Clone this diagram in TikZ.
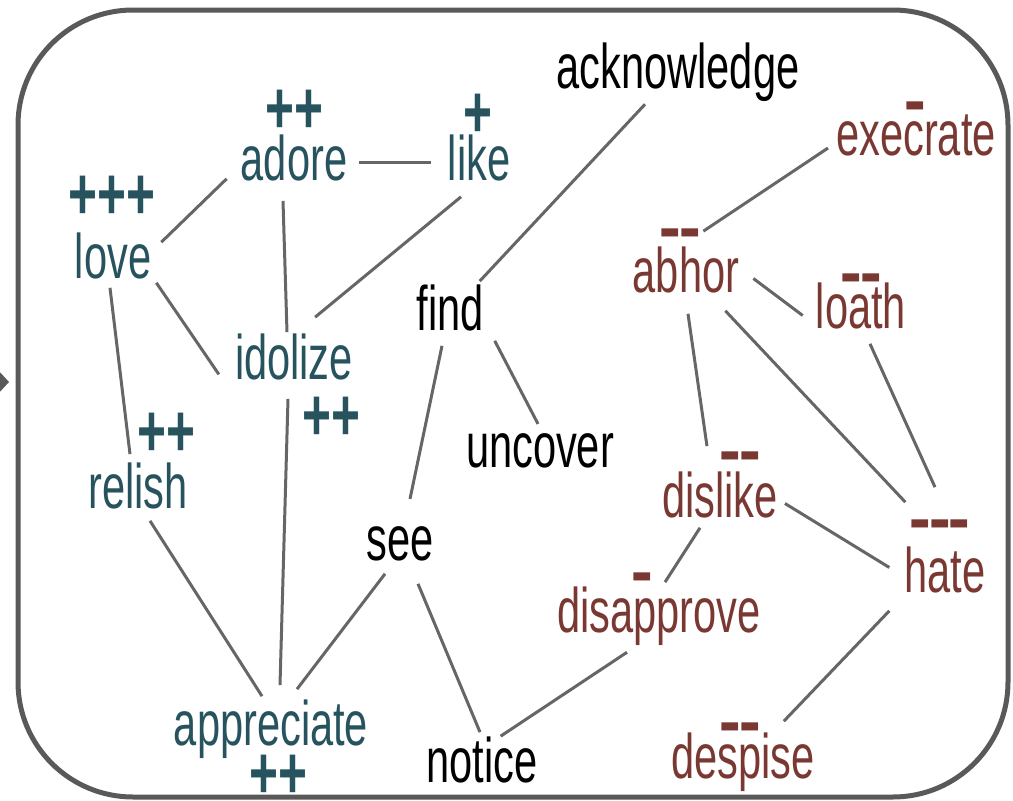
\documentclass[tikz,border=0pt]{standalone}
\usepackage{fontspec}
\setmainfont{Liberation Sans}[FakeStretch=0.66]
\newfontfamily\plusfont{Liberation Sans Bold}[FakeStretch=0.67]
\newfontfamily\minusfont{Liberation Sans Bold}[FakeStretch=0.45]
\usetikzlibrary{positioning}
\definecolor{goodc}{HTML}{27535F}
\definecolor{badc}{HTML}{7A3832}
\definecolor{edgec}{HTML}{666666}

\begin{document}
\begin{tikzpicture}[x=1pt,y=-1pt,
  word/.style={inner sep=0pt,anchor=base,font=\fontsize{63}{70}\selectfont},
  good/.style={word,text=goodc},
  bad/.style={word,text=badc},
  neu/.style={word,text=black},
  plus/.style={inner sep=0pt,anchor=base,text=goodc,font=\fontsize{74}{80}\plusfont},
  minus/.style={inner sep=0pt,anchor=base,text=badc,font=\fontsize{74}{80}\minusfont},
  link/.style={draw=edgec,line width=3pt}]
\useasboundingbox (0,0) rectangle (1013,801);
\clip (0,0) rectangle (1013,801);
% frame and the arrow tip coming in from the left
\draw[black!65,line width=5pt,rounded corners=115pt] (18,10) rectangle (1008,797);
\fill[black!65] (-3,369) -- (9,382) -- (-3,395) -- cycle;

% words
\node[neu](acknowledge) at (678,88){acknowledge};
\node[good](adore) at (294,180){adore};
\node[good](like) at (479,180){like};
\node[good](love) at (113,278){love};
\node[good](idolize) at (294,379){idolize};
\node[good](relish) at (138,508){relish};
\node[good](appreciate) at (271,745){appreciate};
\node[neu](find) at (450,330){find};
\node[neu](uncover) at (540,467){uncover};
\node[neu](see) at (400,560){see};
\node[neu](notice) at (482,782){notice};
\node[bad](execrate) at (916,155){execrate};
\node[bad](abhor) at (686,292){abhor};
\node[bad](loath) at (861,328){loath};
\node[bad](dislike) at (720,517){dislike};
\node[bad](hate) at (945,592){hate};
\node[bad](disapprove) at (659,632){disapprove};
\node[bad](despise) at (743,778){despise};

% signs
\node[plus](adoreS) at (294,133){++};
\node[plus](likeS) at (478,137){+};
\node[plus](loveS) at (112,219){+++};
\node[plus](idolizeS) at (331,440){++};
\node[plus](relishS) at (166,456){++};
\node[plus](appreciateS) at (278,798){++};
\node[minus](execrateS) at (915,130){−};
\node[minus](abhorS) at (680,257){−−};
\node[minus](loathS) at (861,302){−−};
\node[minus](dislikeS) at (740,480){−−};
\node[minus](hateS) at (940,548){−−−};
\node[minus](disapproveS) at (642,601){−};
\node[minus](despiseS) at (740,751){−−};

% links
\draw[link]([shift={(10,10)}]love.north east)--([shift={(-14,-2)}]adore.south west);
\draw[link]([shift={(12,-15)}]adore.mid east)--([shift={(-17,-15)}]like.mid west);
\draw[link]([shift={(-11,20)}]adore.south)--([shift={(-7,-1)}]idolize.north);
\draw[link]([shift={(-18,16)}]like.south)--([shift={(-38,-16)}]idolize.north east);
\draw[link]([shift={(5,4)}]love.south east)--([shift={(-16,-2)}]idolize.mid west);
\draw[link]([shift={(-3,9)}]love.south)--([shift={(-8,-8)}]relish.north);
\draw[link]([shift={(12,12)}]relish.south)--([shift={(-9,-3)}]appreciate.north);
\draw[link]([shift={(-6,19)}]idolize.south)--([shift={(9,-14)}]appreciate.north);
\draw[link]([shift={(-15,13)}]see.south)--([shift={(26,-10)}]appreciate.north);
\draw[link]([shift={(18,23)}]see.south)--([shift={(-2,-4)}]notice.north);
\draw[link]([shift={(-8,15)}]find.south)--([shift={(10,-27)}]see.north);
\draw[link]([shift={(11,10)}]find.south east)--([shift={(-2,-9)}]uncover.north);
\draw[link]([shift={(-4,-3)}]find.north east)--([shift={(-33,3)}]acknowledge.south);
\draw[link]([shift={(-8,-7)}]execrate.base west)--([shift={(-36,-15)}]abhor.north east);
\draw[link]([shift={(14,9)}]abhor.east)--([shift={(-13,10)}]loath.west);
\draw[link]([shift={(2,21)}]abhor.south)--([shift={(-13,-25)}]dislike.north);
\draw[link]([shift={(-14,18)}]abhor.south east)--([shift={(1,-44)}]hate.north west);
\draw[link]([shift={(9,15)}]loath.south)--([shift={(-10,-59)}]hate.north);
\draw[link]([shift={(7,9)}]dislike.east)--([shift={(-15,-2)}]hate.west);
\draw[link]([shift={(-20,10)}]dislike.south)--([shift={(6,-4)}]disapprove.north);
\draw[link]([shift={(-32,7)}]disapprove.south)--([shift={(-37,0)}]notice.north east);
\draw[link]([shift={(-15,18)}]hate.south west)--([shift={(-31,-11)}]despise.north east);
\end{tikzpicture}
\end{document}
